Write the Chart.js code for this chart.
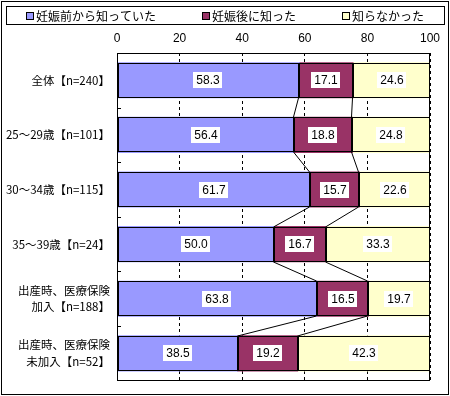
<!DOCTYPE html>
<html><head><meta charset="utf-8">
<script src="https://cdn.jsdelivr.net/npm/chart.js@4/dist/chart.umd.min.js"></script>
<style>html,body{margin:0;padding:0;background:#fff}canvas{display:block}</style>
</head><body>
<canvas id="c" width="450" height="396" style="width:450px;height:396px"></canvas>
<script>
const categories = [
  ['全体【n=240】'],
  ['25～29歳【n=101】'],
  ['30～34歳【n=115】'],
  ['35～39歳【n=24】'],
  ['出産時、医療保険', '加入【n=188】'],
  ['出産時、医療保険', '未加入【n=52】']
];
const seriesNames = ['妊娠前から知っていた', '妊娠後に知った', '知らなかった'];
const knewBefore = [58.3, 56.4, 61.7, 50.0, 63.8, 38.5];
const knewAfter  = [17.1, 18.8, 15.7, 16.7, 16.5, 19.2];
const didNotKnow = [24.6, 24.8, 22.6, 33.3, 19.7, 42.3];
const xTicks = [0, 20, 40, 60, 80, 100];

const colors = ['#9999FF', '#993366', '#FFFFCC'];
const jpFont = '"Noto Sans CJK JP", "Noto Sans", sans-serif';
const numFont = '"Liberation Sans", Arial, sans-serif';

const deco = {
  id: 'deco',
  afterDatasetsDraw(chart) {
    const ctx = chart.ctx, ca = chart.chartArea;
    ctx.save();
    ctx.strokeStyle = '#000'; ctx.lineWidth = 1; ctx.setLineDash([]);
    // crisp bar outlines from the library's bar elements
    chart.data.datasets.forEach((ds, di) => {
      chart.getDatasetMeta(di).data.forEach(el => {
        const p = el.getProps(['x', 'y', 'base', 'height'], true);
        const l = Math.round(Math.min(p.x, p.base)), r = Math.round(Math.max(p.x, p.base));
        const t = Math.round(p.y - p.height / 2), b = Math.round(p.y + p.height / 2);
        ctx.strokeRect(l + 0.5, t + 0.5, r - l - 1, b - t - 1);
      });
    });
    // plot frame
    ctx.strokeRect(Math.round(ca.left) + 0.5, Math.round(ca.top) + 0.5,
                   Math.round(ca.right - ca.left) - 1, Math.round(ca.bottom - ca.top) - 1);
    const n = chart.data.labels.length;
    const step = (ca.bottom - ca.top) / n;
    for (let k = 1; k < n; k++) {
      const yy = Math.round(ca.top + step * k) + 0.5;
      ctx.beginPath(); ctx.moveTo(ca.left, yy); ctx.lineTo(ca.left + 4, yy); ctx.stroke();
    }
    // connector lines
    [0, 1].forEach(di => {
      const m = chart.getDatasetMeta(di);
      for (let k = 0; k < m.data.length - 1; k++) {
        const a = m.data[k].getProps(['x', 'y', 'height'], true);
        const b = m.data[k + 1].getProps(['x', 'y', 'height'], true);
        ctx.beginPath();
        ctx.moveTo(Math.round(a.x) - 0.5, Math.round(a.y + a.height / 2));
        ctx.lineTo(Math.round(b.x) - 0.5, Math.round(b.y - b.height / 2));
        ctx.stroke();
      }
    });
    // value labels
    ctx.font = '12px ' + numFont;
    ctx.textAlign = 'center'; ctx.textBaseline = 'middle';
    chart.data.datasets.forEach((ds, di) => {
      const m = chart.getDatasetMeta(di);
      m.data.forEach((el, k) => {
        const p = el.getProps(['x', 'y', 'base'], true);
        const cx = Math.round((p.x + p.base) / 2);
        const cy = Math.round(p.y);
        const txt = ds.data[k].toFixed(1);
        const w = Math.ceil(ctx.measureText(txt).width) + 5;
        ctx.fillStyle = '#fff';
        ctx.fillRect(cx - Math.round(w / 2), cy - 8, w, 16);
        ctx.fillStyle = '#000';
        ctx.fillText(txt, cx, cy + 1);
      });
    });
    ctx.restore();
  },
  afterDraw(chart) {
    const ctx = chart.ctx;
    ctx.save();
    ctx.strokeStyle = '#000'; ctx.lineWidth = 1; ctx.setLineDash([]);
    ctx.strokeRect(1.5, 1.5, 447, 393);
    ctx.strokeRect(6.5, 6.5, 438, 18);
    ctx.font = '12px ' + jpFont;
    ctx.textBaseline = 'middle'; ctx.textAlign = 'left';
    const gapItems = 46, box = 7, gapText = 3;
    const widths = chart.data.datasets.map(d => box + gapText + ctx.measureText(d.label).width);
    const total = widths.reduce((s, w) => s + w, 0) + gapItems * (widths.length - 1);
    let x = Math.round(225 - total / 2);
    const cy = 16;
    chart.data.datasets.forEach((d, i) => {
      ctx.fillStyle = d.backgroundColor;
      ctx.fillRect(x + 0.5, cy - 4 + 0.5, box, box);
      ctx.strokeRect(x + 0.5, cy - 4 + 0.5, box, box);
      ctx.fillStyle = '#000';
      ctx.fillText(d.label, x + box + gapText, cy);
      x += widths[i] + gapItems;
    });
    ctx.restore();
  }
};

new Chart(document.getElementById('c'), {
  type: 'bar',
  data: {
    labels: categories,
    datasets: [
      { label: seriesNames[0], data: knewBefore, backgroundColor: colors[0] },
      { label: seriesNames[1], data: knewAfter, backgroundColor: colors[1] },
      { label: seriesNames[2], data: didNotKnow, backgroundColor: colors[2] }
    ].map(d => Object.assign(d, {
      borderWidth: 0, inflateAmount: 0.5,
      barPercentage: 0.643, categoryPercentage: 1
    }))
  },
  options: {
    indexAxis: 'y',
    responsive: false,
    animation: false,
    devicePixelRatio: 1,
    layout: { padding: { top: 30, left: 2, right: 20, bottom: 7 } },
    plugins: { legend: { display: false }, tooltip: { enabled: false } },
    scales: {
      x: {
        position: 'top', stacked: true, min: 0, max: 100,
        afterBuildTicks: s => { s.ticks = xTicks.map(v => ({ value: v })); },
        afterFit: s => { s.height = 23; },
        ticks: { color: '#000', font: { size: 12, family: numFont }, padding: 7, maxRotation: 0 },
        grid: { color: '#000', lineWidth: 1, drawTicks: false },
        border: { display: false, dash: [3, 3] }
      },
      y: {
        stacked: true,
        afterFit: s => { s.width = 115; },
        ticks: { color: '#000', font: { size: 11.5, family: jpFont, lineHeight: 1.45 }, padding: 7 },
        grid: { display: false, drawTicks: false },
        border: { display: false }
      }
    }
  },
  plugins: [deco]
});
</script>
</body></html>
